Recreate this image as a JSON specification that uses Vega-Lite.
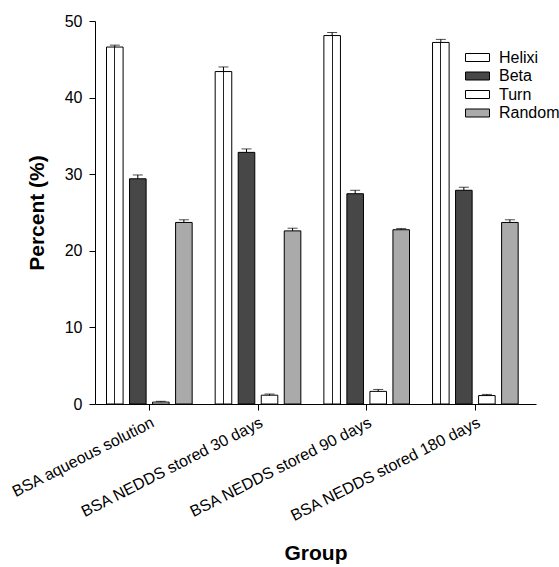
{
  "$schema": "https://vega.github.io/schema/vega-lite/v6.json",
  "autosize": {"type": "none"},
  "padding": {"left": 95, "top": 21, "right": 23, "bottom": 163},
  "width": 441,
  "height": 383,
  "background": "white",
  "config": {
    "view": {"stroke": null},
    "font": "Liberation Sans",
    "axis": {
      "labelFont": "Liberation Sans", "labelFontSize": 16, "labelColor": "black", "labelLimit": 400,
      "titleFont": "Liberation Sans", "titleFontSize": 21, "titleFontWeight": "bold", "titleColor": "black",
      "domainColor": "black", "tickColor": "black", "grid": false, "tickSize": 6, "domainWidth": 1, "tickWidth": 1
    },
    "legend": {
      "labelFont": "Liberation Sans", "labelFontSize": 16, "labelColor": "black"
    }
  },
  "data": {
    "values": [
      {"group": "BSA aqueous solution", "type": "Helixi", "value": 46.6, "upper": 46.85},
      {"group": "BSA aqueous solution", "type": "Beta", "value": 29.4, "upper": 29.9},
      {"group": "BSA aqueous solution", "type": "Turn", "value": 0.25, "upper": 0.35},
      {"group": "BSA aqueous solution", "type": "Random", "value": 23.7, "upper": 24.05},
      {"group": "BSA NEDDS stored 30 days", "type": "Helixi", "value": 43.4, "upper": 44.0},
      {"group": "BSA NEDDS stored 30 days", "type": "Beta", "value": 32.85, "upper": 33.3},
      {"group": "BSA NEDDS stored 30 days", "type": "Turn", "value": 1.15, "upper": 1.3},
      {"group": "BSA NEDDS stored 30 days", "type": "Random", "value": 22.6, "upper": 22.95},
      {"group": "BSA NEDDS stored 90 days", "type": "Helixi", "value": 48.1, "upper": 48.5},
      {"group": "BSA NEDDS stored 90 days", "type": "Beta", "value": 27.45, "upper": 27.9},
      {"group": "BSA NEDDS stored 90 days", "type": "Turn", "value": 1.65, "upper": 1.9},
      {"group": "BSA NEDDS stored 90 days", "type": "Random", "value": 22.75, "upper": 22.9},
      {"group": "BSA NEDDS stored 180 days", "type": "Helixi", "value": 47.2, "upper": 47.6},
      {"group": "BSA NEDDS stored 180 days", "type": "Beta", "value": 27.9, "upper": 28.3},
      {"group": "BSA NEDDS stored 180 days", "type": "Turn", "value": 1.1, "upper": 1.25},
      {"group": "BSA NEDDS stored 180 days", "type": "Random", "value": 23.7, "upper": 24.05}
    ]
  },
  "encoding": {
    "x": {
      "field": "group", "type": "nominal", "sort": null,
      "scale": {"paddingInner": 0, "paddingOuter": 0.029, "align": 0},
      "axis": {"title": "Group", "labelAngle": -27, "labelPadding": 4, "titlePadding": 19}
    },
    "xOffset": {
      "field": "type", "type": "nominal",
      "scale": {"domain": ["Helixi", "Beta", "Turn", "Random"], "paddingInner": 0.28, "paddingOuter": 0.5}
    }
  },
  "layer": [
    {
      "mark": {"type": "bar", "stroke": "black", "strokeWidth": 1},
      "encoding": {
        "y": {
          "field": "value", "type": "quantitative",
          "scale": {"domain": [0, 50], "nice": false},
          "axis": {"title": "Percent (%)", "values": [0, 10, 20, 30, 40, 50], "labelPadding": 7, "titlePadding": 17}
        },
        "fill": {
          "field": "type", "type": "nominal",
          "condition": {"test": "datum.type === 'Helixi'", "value": {"gradient": "linear", "x1": 0, "y1": 0, "x2": 1, "y2": 0, "stops": [
                {"offset": 0, "color": "white"}, {"offset": 0.47, "color": "white"},
                {"offset": 0.47, "color": "#222222"}, {"offset": 0.53, "color": "#222222"},
                {"offset": 0.53, "color": "white"}, {"offset": 1, "color": "white"}]}},
          "scale": {
            "domain": ["Helixi", "Beta", "Turn", "Random"],
            "range": ["white", "#474747", "white", "#aaaaaa"]
          },
          "legend": {
            "title": null, "orient": "none", "legendX": 374, "legendY": 28,
            "symbolType": "M-1.5,-0.5H1.5V0.5H-1.5Z", "symbolSize": 256,
            "symbolStrokeColor": "black", "symbolStrokeWidth": 1,
            "labelOffset": 13, "rowPadding": 1.5, "padding": 0
          }
        }
      }
    },
    {
      "mark": {"type": "rule", "color": "black", "strokeWidth": 1},
      "encoding": {
        "y": {"field": "value", "type": "quantitative"},
        "y2": {"field": "upper"}
      }
    },
    {
      "mark": {"type": "tick", "color": "black", "thickness": 1, "size": 10, "orient": "horizontal"},
      "encoding": {
        "y": {"field": "upper", "type": "quantitative"}
      }
    }
  ]
}
